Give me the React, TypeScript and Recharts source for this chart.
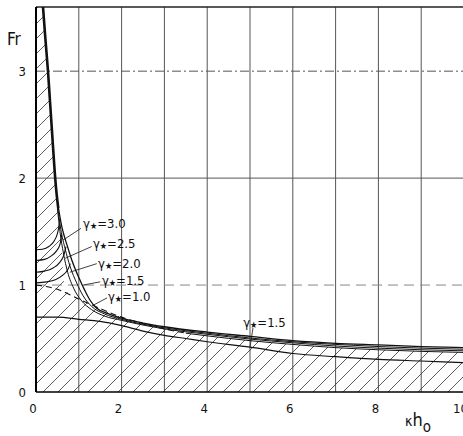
import React from 'react'
import { ComposedChart, Line, Area, XAxis, YAxis, CartesianGrid, ReferenceLine, ReferenceDot } from 'recharts'

// axis ticks
const xTicks = [0, 1, 2, 3, 4, 5, 6, 7, 8, 9, 10]
const yTicks = [0, 1, 2, 3]

// steep upper branch (bold)
const envX = [0.16, 0.22, 0.28, 0.33, 0.38, 0.43, 0.47, 0.52]
const envFr = [3.62, 3.3, 3.0, 2.7, 2.4, 2.1, 1.9, 1.72]

// bundle of curves coming down from the steep branch
const c1X = [0.5, 0.6, 0.72, 0.84, 1.0, 1.14, 1.26, 1.4, 1.7, 2, 2.5, 3, 4, 5, 6, 7, 8, 9, 10]
const c1Fr = [1.78, 1.55, 1.38, 1.23, 1.07, 0.95, 0.86, 0.79, 0.73, 0.69, 0.645, 0.61, 0.56, 0.52, 0.48, 0.455, 0.44, 0.425, 0.415]
const c2X = [0.5, 0.58, 0.68, 0.8, 0.95, 1.1, 1.3, 1.6, 2, 3, 4, 5, 6, 7, 8, 9, 10]
const c2Fr = [1.75, 1.52, 1.34, 1.17, 1.02, 0.9, 0.8, 0.73, 0.68, 0.6, 0.55, 0.505, 0.47, 0.445, 0.425, 0.41, 0.4]
const c3X = [0.5, 0.56, 0.64, 0.74, 0.88, 1.05, 1.3, 1.6, 2, 3, 4, 5, 6, 7, 8, 9, 10]
const c3Fr = [1.72, 1.5, 1.3, 1.12, 0.97, 0.86, 0.77, 0.71, 0.67, 0.59, 0.54, 0.495, 0.46, 0.43, 0.41, 0.395, 0.385]
const c4X = [3.5, 4, 5, 6, 7, 8, 9, 10]
const c4Fr = [0.55, 0.525, 0.48, 0.445, 0.415, 0.395, 0.38, 0.37]

// arcs leaving the Fr axis, one per gamma
const a30X = [0, 0.15, 0.3, 0.42, 0.5, 0.55]
const a30Fr = [1.33, 1.335, 1.36, 1.41, 1.48, 1.58]
const a25X = [0, 0.2, 0.35, 0.48, 0.56, 0.6]
const a25Fr = [1.23, 1.24, 1.27, 1.32, 1.38, 1.47]
const a20X = [0, 0.2, 0.4, 0.55, 0.65, 0.7]
const a20Fr = [1.12, 1.13, 1.16, 1.21, 1.28, 1.36]
const a15X = [0, 0.25, 0.45, 0.62, 0.75, 0.8]
const a15Fr = [1.02, 1.03, 1.05, 1.09, 1.15, 1.2]

// dashed curve
const dashX = [0, 0.5, 1, 1.5, 2, 2.5, 3, 3.5]
const dashFr = [1.0, 0.96, 0.87, 0.78, 0.7, 0.64, 0.59, 0.55]

// lower solid curve (gamma* = 1.5)
const lowX = [0, 0.5, 1, 1.5, 2, 2.5, 3, 3.5, 4, 5, 6, 7, 8, 9, 10]
const lowFr = [0.7, 0.7, 0.68, 0.66, 0.62, 0.57, 0.53, 0.5, 0.47, 0.42, 0.36, 0.33, 0.305, 0.29, 0.275]

// upper edge of the hatched region
const hatchX = [0, 0.16, 0.28, 0.38, 0.47, 0.55, 0.6, 0.63, 0.68, 0.8, 1, 1.5, 2, 2.5, 3, 3.5, 4, 5, 6, 7, 8, 9, 10]
const hatchFr = [3.62, 3.62, 3.0, 2.4, 1.9, 1.6, 1.4, 1.1, 0.95, 0.91, 0.87, 0.78, 0.7, 0.64, 0.59, 0.55, 0.525, 0.48, 0.445, 0.415, 0.395, 0.38, 0.37]

// annotations
const gammaText = ['3.0', '2.5', '2.0', '1.5', '1.0', '1.5']
const gammaX = [1.1, 1.33, 1.45, 1.54, 1.68, 4.84]
const gammaFr = [1.58, 1.39, 1.21, 1.05, 0.9, 0.65]
const leadFrom = [[1.05, 1.53], [1.3, 1.36], [1.42, 1.2], [1.5, 1.03], [1.66, 0.88], [5.07, 0.6]]
const leadTo = [[0.63, 1.42], [0.68, 1.25], [0.79, 1.12], [1.1, 1.0], [1.33, 0.81], [5.0, 0.42]]

const zip = (xs: number[], ys: number[]) => xs.map((x, i) => ({ x, y: ys[i] }))

const font = "'Liberation Sans Narrow', 'DejaVu Sans Condensed', 'Liberation Sans', Arial, sans-serif"

const GammaLabel = ({ viewBox, text }: any) => (
  <text x={viewBox.x} y={viewBox.y} dominantBaseline="central" fontSize={13} fontFamily={font} fill="#111">
    <tspan>γ</tspan>
    <tspan fontSize={9} dy={3}>★</tspan>
    <tspan dy={-3}>={text}</tspan>
  </text>
)

const curves = [
  { x: envX, y: envFr, w: 2.6 },
  { x: c1X, y: c1Fr, w: 1.3 },
  { x: c2X, y: c2Fr, w: 1 },
  { x: c3X, y: c3Fr, w: 1 },
  { x: c4X, y: c4Fr, w: 1 },
  { x: a30X, y: a30Fr, w: 1.1 },
  { x: a25X, y: a25Fr, w: 1.1 },
  { x: a20X, y: a20Fr, w: 1.1 },
  { x: a15X, y: a15Fr, w: 1.1 },
  { x: lowX, y: lowFr, w: 1.2 },
]

export default function App() {
  return (
    <div style={{ position: 'absolute', left: 0, top: 0, width: 463, height: 436, overflow: 'hidden', background: '#fff' }}>
      <ComposedChart width={470} height={436} margin={{ top: 7, right: 6, bottom: 14, left: 0 }}>
        <defs>
          <pattern id="hatch" patternUnits="userSpaceOnUse" width={15} height={15}>
            <path d="M0,15 L15,0 M-2,2 L2,-2 M13,17 L17,13" stroke="#333" strokeWidth={0.8} />
          </pattern>
        </defs>
        <XAxis
          type="number"
          dataKey="x"
          domain={[0, 10]}
          ticks={xTicks}
          tickFormatter={(v: number) => (v % 2 === 0 ? String(v) : '')}
          tickLine={false}
          axisLine={{ stroke: '#000', strokeWidth: 1.5 }}
          tickMargin={6}
          height={30}
          allowDataOverflow
          tick={{ fill: '#111', fontSize: 13, fontFamily: font, dx: -3 }}
          label={{
            content: () => (
              <text x={405} y={426} fontFamily={font} fill="#111">
                <tspan fontSize={14}>κ</tspan>
                <tspan fontSize={18}>h</tspan>
                <tspan fontSize={15} dy={6}>o</tspan>
              </text>
            ),
          }}
        />
        <YAxis
          type="number"
          domain={[0, 3.6]}
          ticks={yTicks}
          tickLine={false}
          axisLine={{ stroke: '#000', strokeWidth: 2 }}
          tickMargin={4}
          width={36}
          allowDataOverflow
          tick={{ fill: '#111', fontSize: 13, fontFamily: font }}
          label={{
            content: () => (
              <text x={7} y={45} fontSize={17} fontFamily={font} fill="#111">Fr</text>
            ),
          }}
        />
        <CartesianGrid horizontal={false} stroke="#555" strokeWidth={1} />
        <Area
          data={zip(hatchX, hatchFr)}
          dataKey="y"
          type="linear"
          stroke="none"
          fill="url(#hatch)"
          fillOpacity={1}
          isAnimationActive={false}
        />
        <ReferenceLine y={3} stroke="#555" strokeDasharray="9 3 2 3" />
        <ReferenceLine y={2} stroke="#555" />
        <ReferenceLine y={1} stroke="#888" strokeDasharray="10 6" />
        <ReferenceLine y={3.6} stroke="#222" strokeWidth={1.5} />
        <Line
          data={zip(dashX, dashFr)}
          dataKey="y"
          type="monotone"
          stroke="#111"
          strokeWidth={1.1}
          strokeDasharray="6 4"
          dot={false}
          isAnimationActive={false}
        />
        {curves.map((c, i) => (
          <Line
            key={i}
            data={zip(c.x, c.y)}
            dataKey="y"
            type="monotone"
            stroke="#111"
            strokeWidth={c.w}
            dot={false}
            isAnimationActive={false}
          />
        ))}
        {leadFrom.map((p, i) => (
          <ReferenceLine
            key={'l' + i}
            segment={[{ x: p[0], y: p[1] }, { x: leadTo[i][0], y: leadTo[i][1] }]}
            stroke="#111"
            strokeWidth={0.8}
          />
        ))}
        {gammaText.map((t, i) => (
          <ReferenceDot
            key={'g' + i}
            x={gammaX[i]}
            y={gammaFr[i]}
            r={0}
            stroke="none"
            fill="none"
            label={{ content: (props: any) => <GammaLabel {...props} text={t} /> }}
          />
        ))}
      </ComposedChart>
    </div>
  )
}
